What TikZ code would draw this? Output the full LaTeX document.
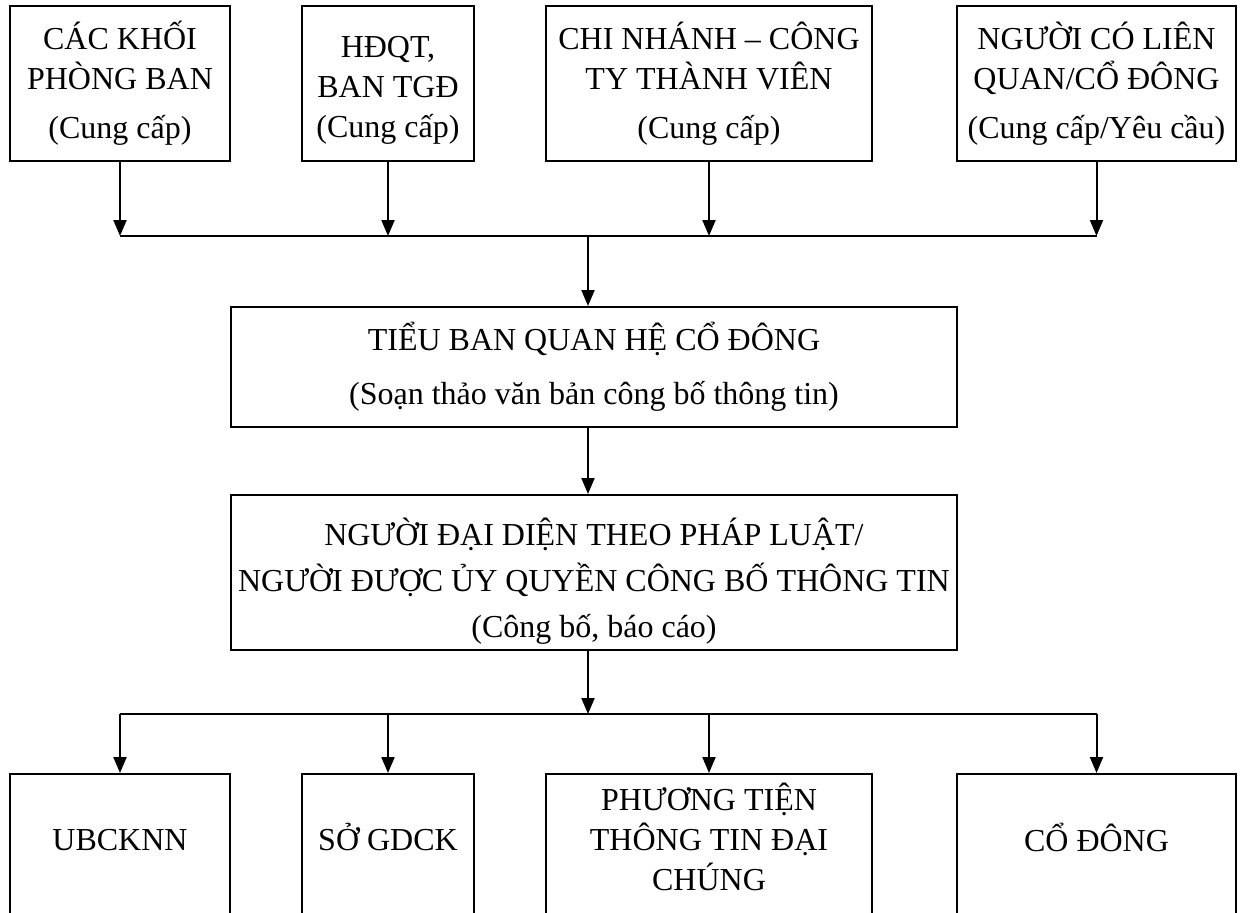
\documentclass[tikz,border=0pt]{standalone}
\usepackage{fontspec}
\setmainfont{Liberation Serif}
\usetikzlibrary{arrows.meta}
\newcommand\tallstrut[1]{\rule{0pt}{#1}}
\newcommand\deepstrut[1]{\rule[-#1]{0pt}{#1}}
\begin{document}
\begin{tikzpicture}[x=0.5pt,y=-0.5pt,
  box/.style={draw,line width=1pt,align=center,inner sep=0pt,font=\fontsize{16}{20}\selectfont},
  topbox/.style={box,minimum height=77.5pt},
  botbox/.style={box,minimum height=73pt},
  arr/.style={line width=1pt,-{Triangle[length=8pt,width=6.5pt]}},
  ln/.style={line width=1pt}]
\useasboundingbox (0,0) rectangle (1242,912);
% top row
\node[topbox,minimum width=110pt] (b1) at (120,83.5) {CÁC KHỐI\\PHÒNG BAN\\[4.5pt](Cung cấp)};
\node[topbox,minimum width=86pt] (b2) at (388,83.5) {\tallstrut{17.5pt}HĐQT,\\BAN TGĐ\\(Cung cấp)};
\node[topbox,minimum width=163pt] (b3) at (709,83.5) {CHI NHÁNH – CÔNG\\TY THÀNH VIÊN\\[4.5pt](Cung cấp)};
\node[topbox,minimum width=139.5pt] (b4) at (1096.5,83.5) {NGƯỜI CÓ LIÊN\\QUAN/CỔ ĐÔNG\\[4.5pt](Cung cấp/Yêu cầu)};
% middle
\node[box,minimum width=363pt,minimum height=60pt] (m1) at (594,367) {TIỂU BAN QUAN HỆ CỔ ĐÔNG\\[7pt](Soạn thảo văn bản công bố thông tin)};
\node[box,minimum width=363pt,minimum height=77.5pt] (m2) at (594,572.5) {\tallstrut{22pt}NGƯỜI ĐẠI DIỆN THEO PHÁP LUẬT/\\[3pt]NGƯỜI ĐƯỢC ỦY QUYỀN CÔNG BỐ THÔNG TIN\\[3pt](Công bố, báo cáo)};
% bottom row
\node[botbox,minimum width=110pt] (c1) at (120,847) {UBCKNN\deepstrut{7pt}};
\node[botbox,minimum width=86pt] (c2) at (388,847) {SỞ GDCK\deepstrut{10pt}};
\node[botbox,minimum width=163pt] (c3) at (709,847) {PHƯƠNG TIỆN\\THÔNG TIN ĐẠI\\CHÚNG\deepstrut{10pt}};
\node[botbox,minimum width=139.5pt] (c4) at (1096.5,847) {CỔ ĐÔNG\deepstrut{10pt}};
% connectors
\coordinate (t) at (588,236);
\coordinate (u) at (588,714);
\foreach \n in {b1,b2,b3,b4} \draw[arr] (\n.south) -- (\n.south |- t);
\draw[ln] (b1.south |- t) -- (b4.south |- t);
\draw[arr] (t) -- (t |- m1.north);
\draw[arr] (t |- m1.south) -- (t |- m2.north);
\draw[arr] (t |- m2.south) -- (u);
\draw[ln] (c1.north |- u) -- (c4.north |- u);
\foreach \n in {c1,c2,c3,c4} \draw[arr] (\n.north |- u) -- (\n.north);
\end{tikzpicture}
\end{document}
